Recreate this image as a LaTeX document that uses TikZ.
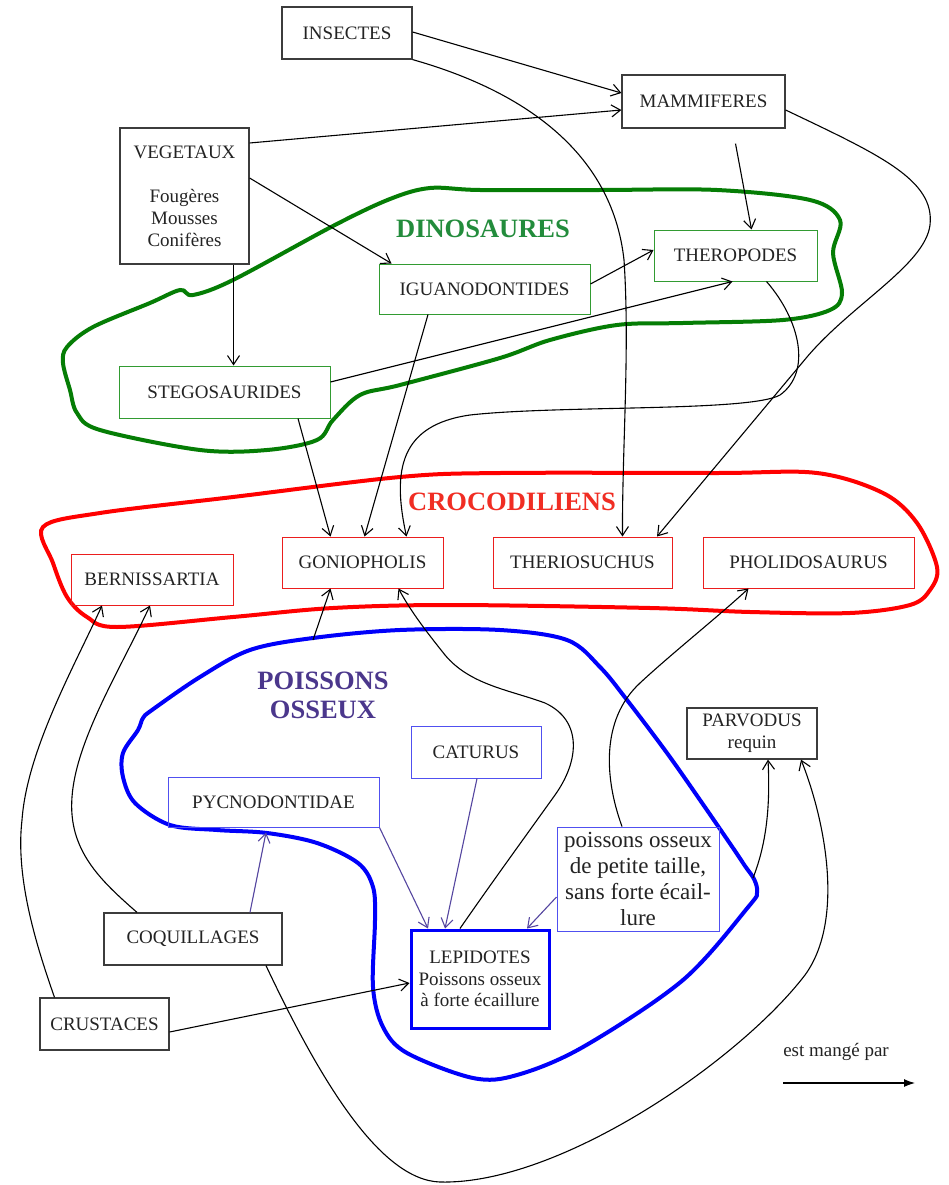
\documentclass[tikz,border=0pt]{standalone}
\usepackage{fontspec}
\setmainfont{Liberation Serif}
\usetikzlibrary{arrows.meta}
\definecolor{txt}{RGB}{35,35,35}
\definecolor{boxgray}{RGB}{60,60,60}
\definecolor{boxgreen}{RGB}{50,155,50}
\definecolor{boxred}{RGB}{235,30,30}
\definecolor{boxblue}{RGB}{80,80,240}
\definecolor{blobgreen}{RGB}{5,125,5}
\definecolor{blobred}{RGB}{255,0,0}
\definecolor{blobblue}{RGB}{0,0,250}
\definecolor{purp}{RGB}{85,70,160}
\definecolor{lblgreen}{RGB}{35,140,60}
\definecolor{lblred}{RGB}{240,45,35}
\definecolor{lblpurp}{RGB}{75,55,140}
\tikzset{
  base/.style={draw, rectangle, inner sep=0pt, font=\fontsize{19}{22}\selectfont, text=txt, align=center},
  blk/.style={base, draw=boxgray, line width=1.2pt},
  grn/.style={base, draw=boxgreen, line width=1pt},
  rd/.style={base, draw=boxred, line width=1pt},
  bl/.style={base, draw=boxblue, line width=1pt},
  conn/.style={draw=black, line width=1.1pt, -{Straight Barb[length=9pt,width=12pt]}},
  pconn/.style={conn, draw=purp},
  blob/.style={line width=4pt},
  biglbl/.style={font=\fontsize{26.5}{29}\selectfont\bfseries, align=center, inner sep=0pt}
}
\begin{document}
\begin{tikzpicture}[x=1pt,y=-1pt]
\path[use as bounding box, fill=white] (0,0) rectangle (949,1185);

% ---------- blobs ----------
\draw[blob, draw=blobgreen] plot[smooth cycle, tension=0.55] coordinates {
 (233,280) (333,226) (390,199) (430,188) (480,190) (600,190) (717,190) (810,200)
 (840,220) (833,253) (842,293) (830,310) (783,320) (683,323) (617,325) (550,340)
 (500,358) (400,385) (360,395) (333,420) (317,440) (267,450) (200,450) (100,430)
 (77,413) (70,390) (63,363) (67,347) (93,327) (150,303) (180,290) (193,295)};

\draw[blob, draw=blobred] plot[smooth cycle, tension=0.55] coordinates {
 (43,527) (100,513) (233,497) (400,477) (500,473) (717,473) (817,473) (883,493)
 (917,523) (937,567) (930,590) (910,605) (850,613) (750,612) (650,608) (450,605)
 (333,608) (233,617) (117,627) (87,617) (67,597) (53,563)};

\draw[blob, draw=blobblue] plot[smooth cycle, tension=0.55] coordinates {
 (313,638) (400,630) (500,630) (567,640) (600,667) (627,700) (667,753) (700,800)
 (733,848) (745,866) (754,879) (757,892) (749,906) (683,980) (583,1047) (517,1075) (473,1078)
 (407,1053) (383,1027) (373,987) (375,920) (373,887) (358,863) (317,843) (267,833)
 (217,830) (170,825) (135,803) (123,777) (123,753) (138,730) (143,718) (152,710)
 (200,677) (250,650)};

\coordinate (pb) at (313,640);
\coordinate (pb2) at (753,878);

% ---------- labels ----------
\node[biglbl, text=lblgreen] (dino) at (483,229) {DINOSAURES};
\node[biglbl, text=lblred] (croco) at (512,502) {CROCODILIENS};
\node[biglbl, text=lblpurp] (poiss) at (323,695) {POISSONS\\OSSEUX};

% ---------- nodes ----------
\node[blk, minimum width=130pt, minimum height=52pt] (insectes) at (347,33) {INSECTES};
\node[blk, minimum width=163pt, minimum height=53pt] (mammiferes) at (703.5,101.5) {MAMMIFERES};
\node[blk, minimum width=129pt, minimum height=136pt] (vegetaux) at (184.5,196) {VEGETAUX\\[22pt]Fougères\\Mousses\\Conifères};
\node[grn, minimum width=211pt, minimum height=50pt] (iguano) at (484.5,289) {IGUANODONTIDES};
\node[grn, minimum width=163pt, minimum height=51pt] (theropodes) at (735.5,255.5) {THEROPODES};
\node[grn, minimum width=211pt, minimum height=52pt] (stego) at (224.5,392) {STEGOSAURIDES};
\node[rd, minimum width=161pt, minimum height=51pt] (gonio) at (362.5,562.5) {GONIOPHOLIS};
\node[rd, minimum width=162pt, minimum height=51pt] (berni) at (152,579.5) {BERNISSARTIA};
\node[rd, minimum width=179pt, minimum height=51pt] (therio) at (582.5,562.5) {THERIOSUCHUS};
\node[rd, minimum width=211pt, minimum height=51pt] (pholido) at (808.5,562.5) {PHOLIDOSAURUS};
\node[bl, minimum width=130pt, minimum height=52pt] (caturus) at (476,752) {CATURUS};
\node[bl, minimum width=211pt, minimum height=50pt] (pycno) at (273.5,802) {PYCNODONTIDAE};
\node[blk, minimum width=130pt, minimum height=51pt] (parvodus) at (752,733.5) {PARVODUS\\requin};
\node[bl, minimum width=162pt, minimum height=104pt, font=\fontsize{23}{26}\selectfont] (petite) at (638,879) {poissons osseux\\de petite taille,\\sans forte écail-\\lure};
\node[base, draw=blobblue, line width=3pt, minimum width=138pt, minimum height=98pt, font=\fontsize{19}{21.5}\selectfont] (lepidotes) at (480,979) {LEPIDOTES\\Poissons osseux\\à forte écaillure};
\node[blk, minimum width=178pt, minimum height=52pt] (coq) at (193,939) {COQUILLAGES};
\node[blk, minimum width=129pt, minimum height=52pt] (crust) at (104.5,1024) {CRUSTACES};
\node[font=\fontsize{19}{22}\selectfont, text=txt, inner sep=0pt] (legend) at (836,1052) {est mangé par};
\coordinate (l1) at (783,1083);
\coordinate (l2) at (915,1083);

% ---------- connectors ----------
\draw[conn] ([yshift=1pt]insectes.east) -- ([yshift=8.5pt]mammiferes.west);
\draw[conn] (insectes.south east) .. controls (520,90) and (612,150) .. (624,260)
   .. controls (630,350) and (622,450) .. ([xshift=40pt]therio.north);
\draw[conn] ([yshift=53pt]vegetaux.east) -- ([yshift=-8.5pt]mammiferes.west);
\draw[conn] ([yshift=18pt]vegetaux.east) -- ([xshift=13pt]iguano.north west);
\draw[conn] ([xshift=49pt]vegetaux.south) -- ([xshift=9pt]stego.north);
\draw[conn] ([xshift=32pt,yshift=-15pt]mammiferes.south) -- ([xshift=16pt]theropodes.north);
\draw[conn] ([yshift=-8.5pt]mammiferes.east) .. controls (880,155) and (935,180) .. (930,225)
   .. controls (925,265) and (852,304) .. (807,357) -- ([xshift=-15.5pt]therio.north east);
\draw[conn] ([yshift=5pt]iguano.east) -- ([yshift=5.5pt]theropodes.west);
\draw[conn] ([yshift=10pt]stego.east) -- ([xshift=-3pt]theropodes.south);
\draw[conn] ([xshift=31pt]theropodes.south) .. controls (800,320) and (812,372) .. (780,395)
   .. controls (750,412) and (560,405) .. (470,415) .. controls (400,425) and (392,470) .. ([xshift=44pt]gonio.north);
\draw[conn] ([xshift=-56.5pt]iguano.south) -- ([xshift=2pt]gonio.north);
\draw[conn] ([xshift=73.5pt]stego.south) -- ([xshift=-32pt]gonio.north);
\draw[conn] ([xshift=-50pt]crust.north) .. controls (38,950) and (15,880) .. (22,820)
   .. controls (27,750) and (75,665) .. ([xshift=-50pt]berni.south);
\draw[conn] ([xshift=-56pt]coq.north) .. controls (100,880) and (68,850) .. (72,797)
   .. controls (76,740) and (120,670) .. ([xshift=-2pt]berni.south);
\draw[conn] (pb) -- ([xshift=-32pt]gonio.south);
\draw[conn] ([xshift=-20pt]lepidotes.north) .. controls (490,885) and (530,830) .. (555,795)
   .. controls (580,760) and (582,720) .. (545,703) .. controls (510,690) and (470,685) .. (445,655)
   .. controls (425,630) and (410,610) .. ([xshift=36pt]gonio.south);
\draw[conn] ([xshift=-16pt]petite.north) .. controls (605,780) and (600,720) .. (640,683)
   .. controls (670,655) and (720,615) .. ([xshift=-60pt]pholido.south);
\draw[pconn] (pycno.south east) -- ([xshift=-52pt]lepidotes.north);
\draw[pconn] ([xshift=1pt]caturus.south) -- ([xshift=-35pt]lepidotes.north);
\draw[pconn] ([yshift=-18pt]petite.west) -- ([xshift=47pt]lepidotes.north);
\draw[pconn] ([xshift=57pt]coq.north) -- ([xshift=-7.5pt,yshift=-5pt]pycno.south);
\draw[conn] ([yshift=-8pt]crust.east) -- ([yshift=-4pt]lepidotes.west);
\draw[conn] ([xshift=73pt]coq.south) .. controls (320,1080) and (380,1180) .. (440,1182)
   .. controls (560,1185) and (740,1060) .. (805,975)
   .. controls (845,920) and (825,820) .. ([xshift=49pt]parvodus.south);
\draw[conn] (pb2) .. controls (768,840) and (770,800) .. ([xshift=16pt]parvodus.south);
\draw[line width=1.1pt, -{Latex[length=11pt,width=8pt]}] (l1) -- (l2);
\end{tikzpicture}
\end{document}
